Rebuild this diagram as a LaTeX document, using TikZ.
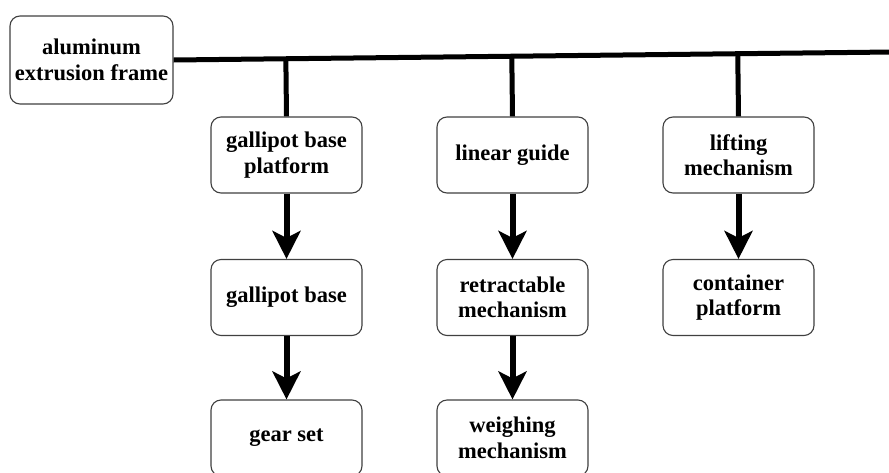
\documentclass[tikz,border=0pt]{standalone}
\usepackage{fontspec}
\setmainfont{Liberation Serif}
\usepackage{tikz}
\usetikzlibrary{arrows.meta,calc}

\begin{document}
\begin{tikzpicture}[x=1pt, y=-1pt,
  part/.style={draw=black!75, line width=1.1pt, rounded corners=10pt, fill=white,
    minimum width=151pt, minimum height=76pt, align=center,
    font=\bfseries\fontsize{22.5}{25.5}\selectfont},
  trunk/.style={black, line width=5pt},
  flow/.style={black, line width=6pt, -{Stealth[length=28pt, width=28pt, inset=7pt]}}]
\useasboundingbox (0,0) rectangle (889,472);
% frame and the main bar
\node[part, minimum width=163pt, minimum height=88pt] (alu) at (91.5,60) {aluminum\\extrusion frame};
\coordinate (barend) at (892,52);
\draw[trunk] (alu.east) -- (barend);
% first row
\node[part] (platform) at (286.5,155) {gallipot base\\platform};
\node[part] (guide) at (512.5,155) {linear guide};
\node[part] (lifting) at (738.5,155) {lifting\\mechanism};
% second row
\node[part] (base) at (286.5,297.5) {gallipot base};
\node[part] (retract) at (512.5,297.5) {retractable\\mechanism};
\node[part] (container) at (738.5,297.5) {container\\platform};
% third row
\node[part] (gear) at (286.5,438) {gear set};
\node[part] (weigh) at (512.5,438) {weighing\\mechanism};
% drops from the bar
\draw[trunk] (platform.north) -- ($(alu.east)!(platform.north)!(barend)$);
\draw[trunk] (guide.north) -- ($(alu.east)!(guide.north)!(barend)$);
\draw[trunk] (lifting.north) -- ($(alu.east)!(lifting.north)!(barend)$);
% arrows down the columns
\draw[flow] (platform) -- (base);
\draw[flow] (base) -- (gear);
\draw[flow] (guide) -- (retract);
\draw[flow] (retract) -- (weigh);
\draw[flow] (lifting) -- (container);
\end{tikzpicture}
\end{document}
